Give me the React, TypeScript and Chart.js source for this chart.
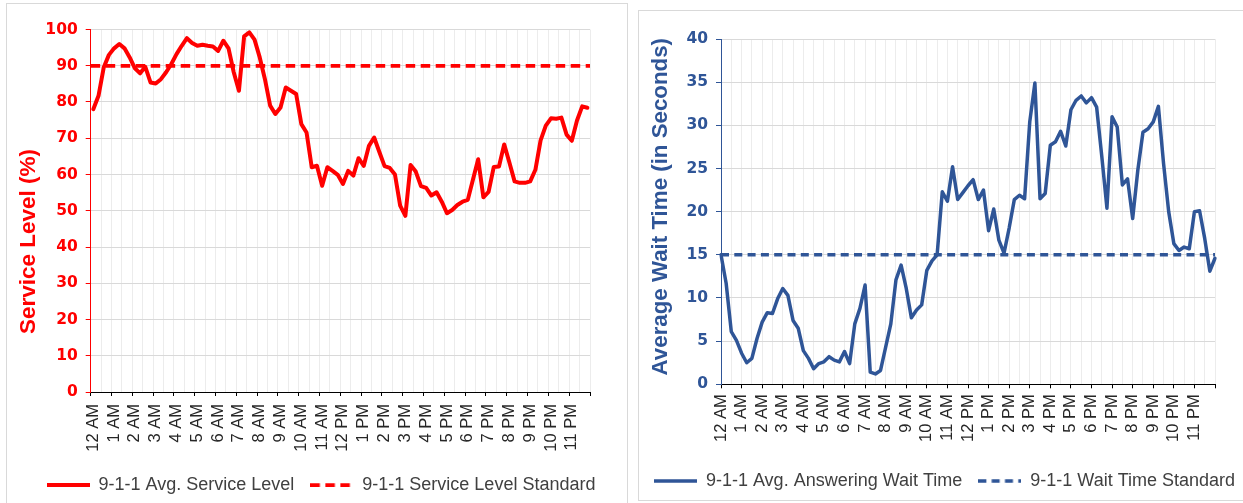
import React, { useEffect, useRef } from 'react';
import { Chart, registerables } from 'chart.js';

Chart.register(...registerables);
Chart.defaults.font.family = '"Liberation Sans", Arial, sans-serif';

// ---------- data ----------
const hourLabels = [
  '12 AM', '1 AM', '2 AM', '3 AM', '4 AM', '5 AM', '6 AM', '7 AM', '8 AM', '9 AM', '10 AM', '11 AM',
  '12 PM', '1 PM', '2 PM', '3 PM', '4 PM', '5 PM', '6 PM', '7 PM', '8 PM', '9 PM', '10 PM', '11 PM',
];
const quarterMarks = [':00', ':15', ':30', ':45'];

// 15-minute categories (96 for the service level chart, 97 for wait time incl. closing 12:00 AM)
const serviceCategories = hourLabels.flatMap((h) => quarterMarks.map((q) => h.replace(' ', q + ' ')));
const waitCategories = [...serviceCategories, '12:00 AM'];

const serviceLevel = [
  78.0, 81.7, 89.5, 93.0, 94.8, 96.0, 94.8, 92.3, 89.3, 87.9,
  89.7, 85.4, 85.1, 86.3, 88.2, 90.5, 93.2, 95.5, 97.6, 96.3,
  95.5, 95.8, 95.5, 95.3, 94.1, 96.9, 94.8, 88.2, 83.1, 98.1,
  99.2, 97.2, 92.3, 86.3, 79.0, 76.7, 78.5, 84.0, 83.1, 82.2,
  73.9, 71.6, 62.0, 62.4, 56.9, 62.0, 61.0, 59.9, 57.4, 61.0,
  59.7, 64.5, 62.4, 67.9, 70.2, 66.2, 62.3, 61.8, 60.0, 51.4,
  48.6, 62.6, 60.8, 56.8, 56.3, 54.2, 55.1, 52.5, 49.3, 50.2,
  51.6, 52.5, 53.0, 58.6, 64.2, 53.7, 55.2, 62.1, 62.2, 68.3,
  63.3, 58.1, 57.7, 57.7, 58.1, 61.3, 69.4, 73.5, 75.5, 75.4,
  75.7, 71.0, 69.3, 74.9, 78.8, 78.4,
];
const serviceStandard = 90;

const waitTime = [
  15.0, 11.7, 6.1, 5.1, 3.6, 2.5, 3.0, 5.3, 7.2, 8.3,
  8.2, 9.9, 11.1, 10.3, 7.4, 6.5, 3.9, 3.0, 1.8, 2.4,
  2.6, 3.2, 2.8, 2.6, 3.8, 2.4, 7.0, 8.8, 11.5, 1.4,
  1.2, 1.6, 4.3, 7.0, 12.1, 13.8, 11.1, 7.7, 8.6, 9.2,
  13.2, 14.3, 15.0, 22.3, 21.2, 25.2, 21.4, 22.2, 23.0, 23.7,
  21.4, 22.5, 17.8, 20.3, 16.7, 15.2, 18.1, 21.4, 21.9, 21.5,
  30.4, 34.9, 21.5, 22.1, 27.7, 28.1, 29.3, 27.6, 31.8, 32.9,
  33.4, 32.6, 33.2, 32.1, 26.4, 20.4, 31.0, 29.8, 23.1, 23.8,
  19.2, 24.8, 29.2, 29.6, 30.4, 32.2, 25.6, 20.0, 16.3, 15.5,
  15.9, 15.7, 20.0, 20.1, 16.9, 13.1, 14.6,
];
const waitStandard = 15;

const serviceTicks = [0, 100, 10];
const waitTicks = [0, 40, 5];

// ---------- styles ----------
const RED = '#FF0000';
const BLUE = '#2F5597';
const GRID_H = '#d9d9d9';
const GRID_V = '#ececec';
const AXIS_TEXT = '#262626';
const LEGEND_TEXT = '#404040';
const CLEAR = 'rgba(0,0,0,0)';

function legendIcon(color: string, lineWidth: number, dash: number[]) {
  const c = document.createElement('canvas');
  c.width = 43;
  c.height = 6;
  const ctx = c.getContext('2d');
  if (ctx) {
    ctx.strokeStyle = color;
    ctx.lineWidth = lineWidth;
    ctx.setLineDash(dash);
    ctx.beginPath();
    ctx.moveTo(0, 3);
    ctx.lineTo(43, 3);
    ctx.stroke();
  }
  return c;
}

function yTitlePlugin(text: string, color: string, x: number, y: number, font: string) {
  return {
    id: 'yTitle',
    afterDraw(chart: any) {
      const ctx = chart.ctx;
      ctx.save();
      ctx.translate(x, y);
      ctx.rotate(-Math.PI / 2);
      ctx.font = font;
      ctx.fillStyle = color;
      ctx.textAlign = 'center';
      ctx.textBaseline = 'middle';
      ctx.fillText(text, 0, 0);
      ctx.restore();
    },
  };
}

function legendOpts() {
  return {
    position: 'bottom',
    labels: {
      usePointStyle: true,
      pointStyleWidth: 43,
      padding: 16,
      color: LEGEND_TEXT,
      font: { family: '"Liberation Sans", Arial, sans-serif', size: 18 },
    },
  };
}

function buildServiceChart(canvas: HTMLCanvasElement) {
  return new Chart(canvas, {
    type: 'line',
    data: {
      labels: serviceCategories,
      datasets: [
        {
          label: '9-1-1 Avg. Service Level',
          data: serviceLevel,
          borderColor: RED,
          backgroundColor: RED,
          borderWidth: 4,
          pointRadius: 0,
          pointHoverRadius: 0,
          pointStyle: legendIcon(RED, 4, []),
          tension: 0,
          borderJoinStyle: 'round',
          borderCapStyle: 'round',
          xAxisID: 'x',
          yAxisID: 'y',
        },
        {
          label: '9-1-1 Service Level Standard',
          data: [
            { x: 0, y: serviceStandard },
            { x: 1, y: serviceStandard },
          ],
          borderColor: RED,
          backgroundColor: RED,
          borderWidth: 3.75,
          borderDash: [9.5, 5.5],
          pointRadius: 0,
          pointHoverRadius: 0,
          pointStyle: legendIcon(RED, 3.75, [9.5, 5.5]),
          xAxisID: 'xStd',
          yAxisID: 'y',
        },
      ],
    },
    options: {
      animation: false,
      responsive: false,
      maintainAspectRatio: false,
      events: [],
      layout: { padding: { left: 0, right: 0, top: 26.5, bottom: 3 } },
      plugins: {
        legend: legendOpts() as any,
        tooltip: { enabled: false },
      },
      scales: {
        x: {
          type: 'category',
          offset: true,
          grid: {
            offset: true,
            color: (c: any) => (c.index === undefined || c.index % 2 === 0 ? GRID_V : CLEAR),
            tickColor: (c: any) => (c.index === undefined || c.index % 4 === 0 ? '#000' : CLEAR),
            tickLength: 4,
            lineWidth: 1,
          },
          border: { color: '#000', width: 1 },
          ticks: {
            autoSkip: false,
            maxRotation: 90,
            minRotation: 90,
            padding: 8,
            color: AXIS_TEXT,
            font: { size: 16.5 },
            callback: (_v: any, i: number) => (i % 4 === 0 ? hourLabels[i / 4] : ''),
          },
          afterFit: (s: any) => {
            s.height = 68;
          },
        },
        xStd: { type: 'linear', display: false, min: 0, max: 1 },
        y: {
          min: serviceTicks[0],
          max: serviceTicks[1],
          ticks: {
            stepSize: serviceTicks[2],
            padding: 8,
            color: RED,
            font: { family: '"DejaVu Sans", sans-serif', size: 15.5, weight: 'bold' },
          },
          grid: { color: GRID_H, tickColor: RED, tickLength: 5 },
          border: { color: RED, width: 1 },
          afterFit: (s: any) => {
            s.width = 83.7;
          },
        },
        yR: {
          position: 'right',
          grid: { display: false },
          ticks: { display: false },
          border: { display: false },
          afterFit: (s: any) => {
            s.width = 45;
          },
        },
      },
    } as any,
    plugins: [yTitlePlugin('Service Level (%)', RED, 21.3, 238.5, 'bold 22.5px "Liberation Sans", Arial, sans-serif')],
  } as any);
}

function buildWaitChart(canvas: HTMLCanvasElement) {
  return new Chart(canvas, {
    type: 'line',
    data: {
      labels: waitCategories,
      datasets: [
        {
          label: '9-1-1 Avg. Answering Wait Time',
          data: waitTime,
          borderColor: BLUE,
          backgroundColor: BLUE,
          borderWidth: 3.5,
          pointRadius: 0,
          pointHoverRadius: 0,
          pointStyle: legendIcon(BLUE, 3.5, []),
          tension: 0,
          borderJoinStyle: 'round',
          borderCapStyle: 'round',
          xAxisID: 'x',
          yAxisID: 'y',
        },
        {
          label: '9-1-1 Wait Time Standard',
          data: [
            { x: 0, y: waitStandard },
            { x: 1, y: waitStandard },
          ],
          borderColor: BLUE,
          backgroundColor: BLUE,
          borderWidth: 3.5,
          borderDash: [8, 5.3],
          pointRadius: 0,
          pointHoverRadius: 0,
          pointStyle: legendIcon(BLUE, 3.5, [8, 5.3]),
          xAxisID: 'xStd',
          yAxisID: 'y',
        },
      ],
    },
    options: {
      animation: false,
      responsive: false,
      maintainAspectRatio: false,
      events: [],
      layout: { padding: { left: 0, right: 0, top: 29, bottom: 3 } },
      plugins: {
        legend: legendOpts() as any,
        tooltip: { enabled: false },
      },
      scales: {
        x: {
          type: 'category',
          offset: false,
          grid: {
            offset: false,
            color: (c: any) => (c.index === undefined || c.index % 2 === 0 ? GRID_V : CLEAR),
            tickColor: (c: any) => (c.index === undefined || c.index % 4 === 0 ? '#000' : CLEAR),
            tickLength: 4,
            lineWidth: 1,
          },
          border: { color: '#000', width: 1 },
          ticks: {
            autoSkip: false,
            maxRotation: 90,
            minRotation: 90,
            padding: 6,
            color: AXIS_TEXT,
            font: { size: 16.5 },
            callback: (_v: any, i: number) => (i % 4 === 0 && i < 96 ? hourLabels[i / 4] : ''),
          },
          afterFit: (s: any) => {
            s.height = 71.7;
          },
        },
        xStd: { type: 'linear', display: false, min: 0, max: 1 },
        y: {
          min: waitTicks[0],
          max: waitTicks[1],
          ticks: {
            stepSize: waitTicks[2],
            padding: 8,
            color: BLUE,
            font: { family: '"DejaVu Sans", sans-serif', size: 15.5, weight: 'bold' },
          },
          grid: { color: GRID_H, tickColor: BLUE, tickLength: 5 },
          border: { color: BLUE, width: 1 },
          afterFit: (s: any) => {
            s.width = 91;
          },
        },
        yR: {
          position: 'right',
          grid: { display: false },
          ticks: { display: false },
          border: { display: false },
          afterFit: (s: any) => {
            s.width = 44;
          },
        },
      },
    } as any,
    plugins: [
      yTitlePlugin('Average Wait Time (in Seconds)', BLUE, 30.7, 196.7, 'bold 22.3px "Liberation Sans", Arial, sans-serif'),
    ],
  } as any);
}

function ChartCanvas(props: {
  build: (c: HTMLCanvasElement) => Chart;
  left: number;
  top: number;
  width: number;
  height: number;
}) {
  const ref = useRef<HTMLCanvasElement | null>(null);
  useEffect(() => {
    if (!ref.current) return;
    const chart = props.build(ref.current);
    return () => chart.destroy();
  }, []);
  return (
    <canvas
      ref={ref}
      width={props.width}
      height={props.height}
      style={{
        position: 'absolute',
        left: props.left,
        top: props.top,
        width: props.width,
        height: props.height,
      }}
    />
  );
}

export default function App() {
  return (
    <div
      style={{
        position: 'absolute',
        left: 0,
        top: 0,
        width: 1243,
        height: 503,
        overflow: 'hidden',
        background: '#ffffff',
      }}
    >
      <div
        style={{
          position: 'absolute',
          left: 6,
          top: 3,
          width: 622,
          height: 530,
          border: '1px solid #d9d9d9',
          boxSizing: 'border-box',
        }}
      />
      <div
        style={{
          position: 'absolute',
          left: 638,
          top: 10,
          width: 640,
          height: 491,
          border: '1px solid #d9d9d9',
          boxSizing: 'border-box',
        }}
      />
      <ChartCanvas build={buildServiceChart} left={7} top={3} width={628} height={504} />
      <ChartCanvas build={buildWaitChart} left={630} top={10} width={629} height={493} />
    </div>
  );
}
